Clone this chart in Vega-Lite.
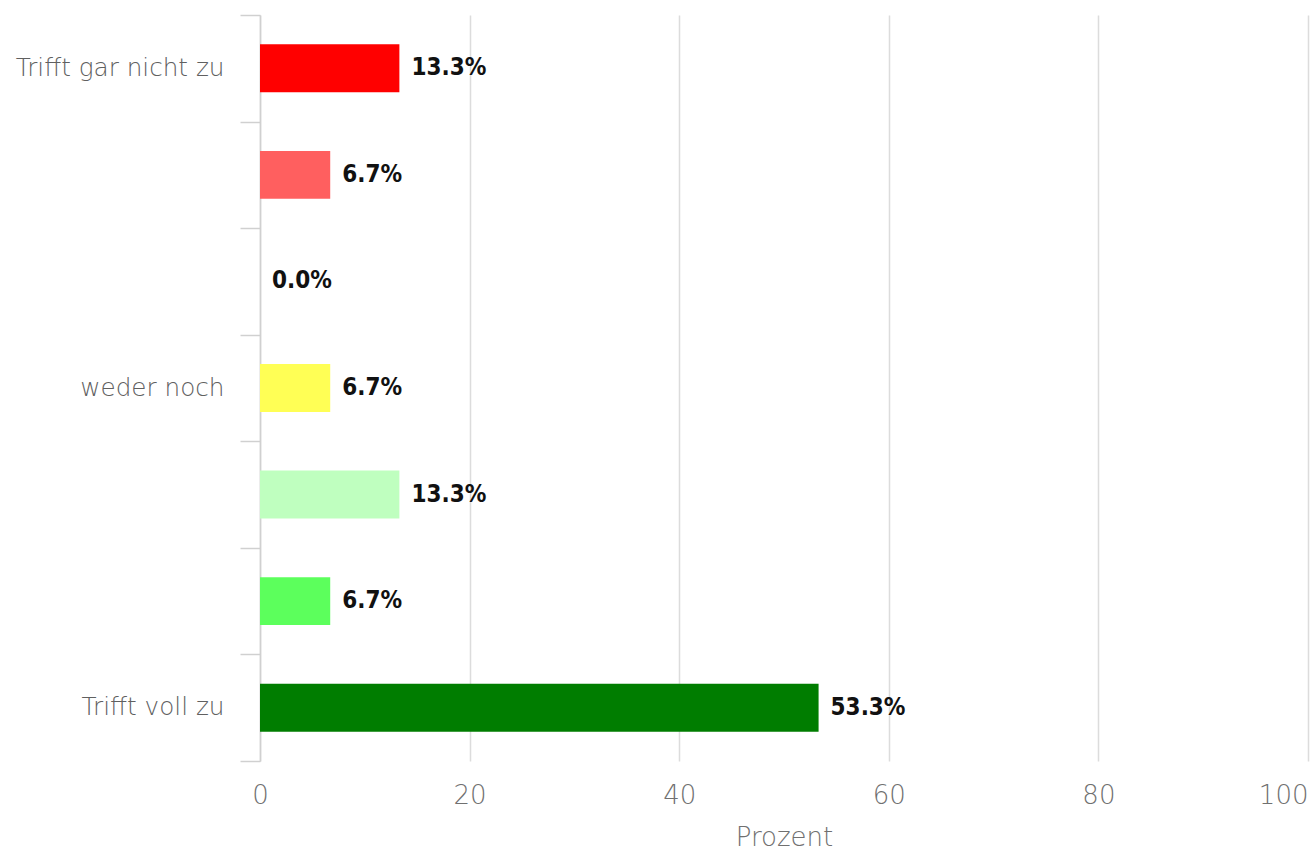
{
  "$schema": "https://vega.github.io/schema/vega-lite/v6.json",
  "width": 1048,
  "height": 746,
  "autosize": "none",
  "padding": {"left": 260, "top": 15, "right": 2, "bottom": 89},
  "background": "white",
  "config": {"view": {"stroke": null}},
  "data": {
    "values": [
      {"stufe": 1, "prozent": 13.3, "farbe": "#ff0000"},
      {"stufe": 2, "prozent": 6.7, "farbe": "#ff5f5f"},
      {"stufe": 3, "prozent": 0.0, "farbe": "#ffbfbf"},
      {"stufe": 4, "prozent": 6.7, "farbe": "#ffff55"},
      {"stufe": 5, "prozent": 13.3, "farbe": "#bfffbf"},
      {"stufe": 6, "prozent": 6.7, "farbe": "#5cff5c"},
      {"stufe": 7, "prozent": 53.3, "farbe": "#007d00"}
    ]
  },
  "transform": [{"calculate": "format(datum.prozent, '.1f') + '%'", "as": "label"}],
  "encoding": {
    "y": {
      "field": "stufe",
      "type": "ordinal",
      "sort": "ascending",
      "scale": {"paddingInner": 0, "paddingOuter": 0},
      "axis": {
        "title": null,
        "tickBand": "extent",
        "tickSize": 20,
        "tickColor": "#d0d0d0",
        "tickWidth": 1.5,
        "domainColor": "#d0d0d0",
        "domainWidth": 1.5,
        "labelPadding": 16,
        "labelLimit": 0,
        "labelFont": "DejaVu Sans",
        "labelFontWeight": 200,
        "labelFontSize": 24.7,
        "labelColor": "#606060",
        "labelExpr": "datum.value == 1 ? 'Trifft gar nicht zu' : datum.value == 4 ? 'weder noch' : datum.value == 7 ? 'Trifft voll zu' : ''",
        "grid": false
      }
    },
    "x": {
      "field": "prozent",
      "type": "quantitative",
      "scale": {"domain": [0, 100], "nice": false},
      "axis": {
        "title": "Prozent",
        "values": [0, 20, 40, 60, 80, 100],
        "domain": false,
        "ticks": false,
        "grid": true,
        "gridColor": "#dcdcdc",
        "gridWidth": 1.5,
        "labelPadding": 21,
        "labelFont": "DejaVu Sans",
        "labelFontWeight": 200,
        "labelFontSize": 26,
        "labelColor": "#707070",
        "labelFlush": false,
        "labelAlign": {"expr": "datum.value == 100 ? 'right' : 'center'"},
        "titleFont": "DejaVu Sans",
        "titleFontSize": 26,
        "titleFontWeight": 200,
        "titleColor": "#707070",
        "titlePadding": 16
      }
    }
  },
  "layer": [
    {
      "mark": {"type": "bar", "height": {"band": 0.45}},
      "encoding": {"color": {"field": "farbe", "type": "nominal", "scale": null}}
    },
    {
      "mark": {"type": "text", "align": "left", "baseline": "middle", "dx": 12, "font": "DejaVu Sans Condensed", "fontWeight": "bold", "fontSize": 24, "color": "#111111"},
      "encoding": {"text": {"field": "label"}}
    }
  ]
}
